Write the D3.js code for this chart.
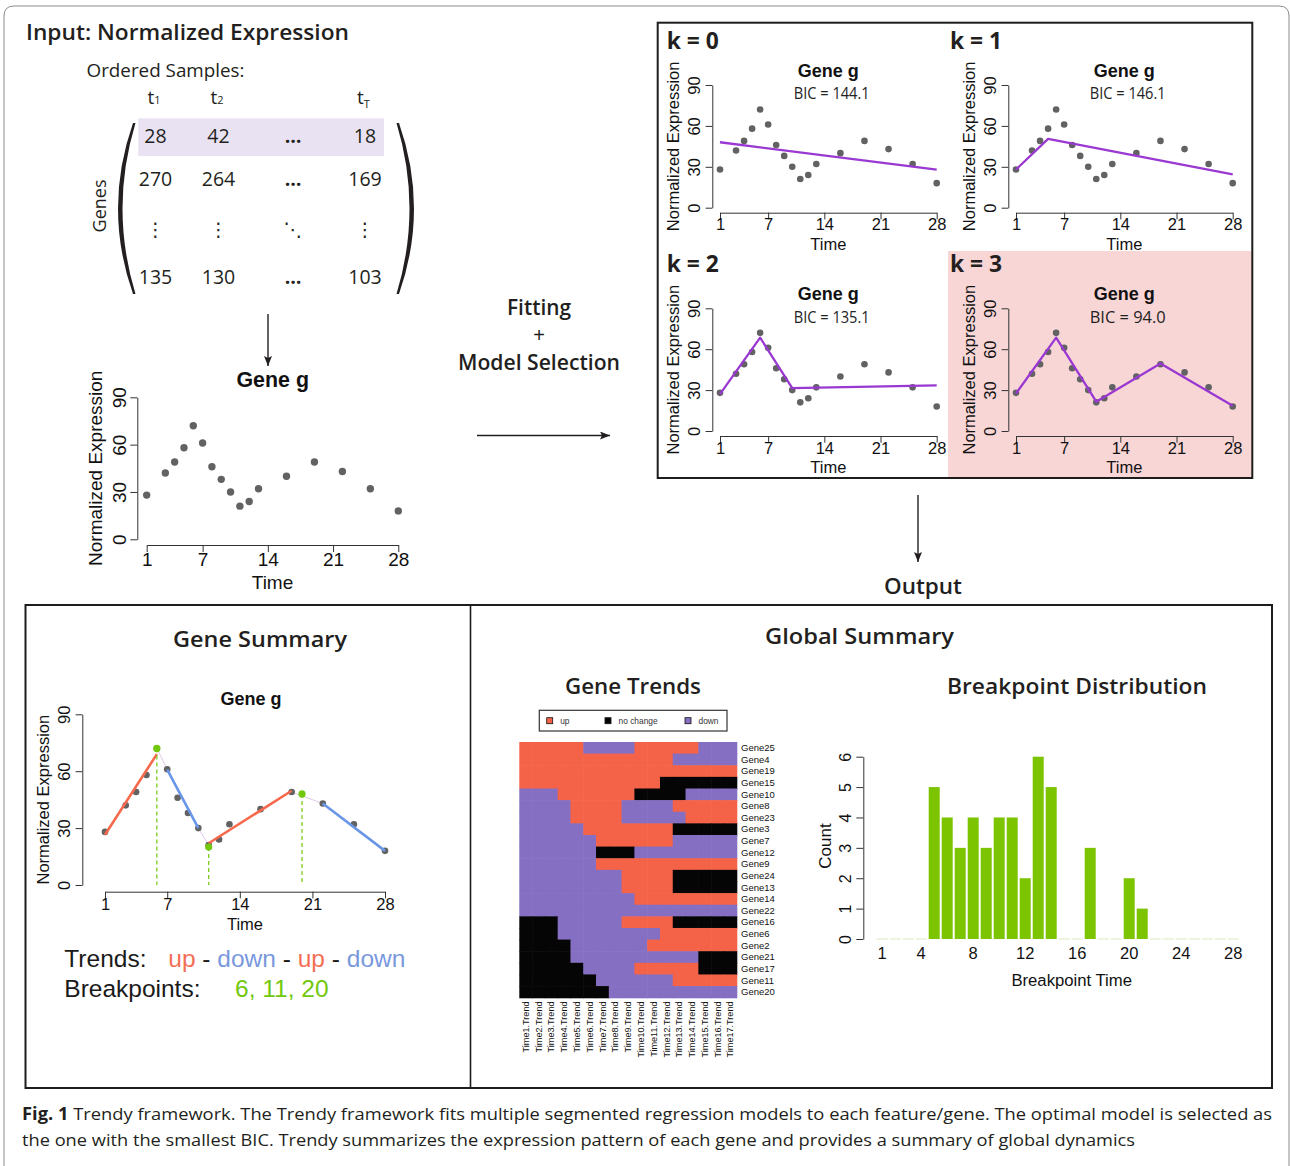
<!DOCTYPE html>
<html><head><meta charset="utf-8">
<script src="https://cdn.jsdelivr.net/npm/d3@7"></script>
<style>
body{margin:0;background:#fff;}
svg{display:block;}
text{white-space:pre;}
</style></head><body>
<svg id="fig" width="1290" height="1166"></svg>
<script>
// ---------------- DATA ----------------
const times = [1,3,4,5,6,7,8,9,10,11,12,13,16,19,22,25,28];
const expr  = [28,42,49,58,72,61,46,38,30,21,24,32,40,49,43,32,18];
const xTicks = [1,7,14,21,28];
const yTicks = [0,30,60,90];

const matrixHeader = [["t","1"],["t","2"],["",""],["t","T"]];
const matrixRows = [
  ["28","42","…","18"],
  ["270","264","…","169"],
  ["⋮","⋮","⋱","⋮"],
  ["135","130","…","103"]
];

const modelK   = ["k = 0","k = 1","k = 2","k = 3"];
const modelBIC = ["BIC = 144.1","BIC = 146.1","BIC = 135.1","BIC = 94.0"];
const fitT = [[1,28],[1,5,28],[1,6,10,28],[1,6,11,19,28]];
const fitY = [[48,28],[28,50.5,24.5],[27,68.5,31.5,33.5],[27.5,68.5,21.5,49.5,18.5]];

const segStartT = [1,7,11,22];
const segEndT   = [6,10,19,28];
const segStartY = [26.5,60.8,22,43];
const segEndY   = [69,30,49.7,18];
const segTrend  = ["up","down","up","down"];
const bpT = [6,11,20];
const bpY = [72,20,48];

const heatCols  = d3.range(1,18).map(i => "Time" + i + ".Trend");
const heatGenes = ["Gene25","Gene4","Gene19","Gene15","Gene10","Gene8","Gene23","Gene3","Gene7","Gene12","Gene9",
                   "Gene24","Gene13","Gene14","Gene22","Gene16","Gene6","Gene2","Gene21","Gene17","Gene11","Gene20"];
const heatRows = [
  "UUUUUDDDDUUUUUDDD","UUUUUUUUUUUUDDDDD","UUUUUUUUUUUUUUUUU","UUUUUUUUUUUNNNNNN",
  "DDDUUUUUUNNNNDDDD","DDDDUUUUDDDDUUUUU","DDDDUUUUDDDDDUUUU","DDDDDUUUUUUUNNNNN",
  "DDDDDDUUUUUUDDDDD","DDDDDDNNNDDDDDDDD","DDDDDDUUUUUUUUUUU","DDDDDDDDUUUUNNNNN",
  "DDDDDDDDUUUUNNNNN","DDDDDDDDDUUUUUUUU","DDDDDDDDDDDDDDDDD","NNNDDDDDUUUUNNNNN",
  "NNNDDDDDDDDUUUUUU","NNNNDDDDDDUUUUUUU","NNNNDDDDDDDDDDNNN","NNNNNDDDDUUUUUNNN",
  "NNNNNNDDDDDDUUUUU","NNNNNNNDDDDDDDDDD"
];
const heatLegend = [["U","up"],["N","no change"],["D","down"]];

const bpTimes  = d3.range(1,29);
const bpCounts = [0,0,0,0,5,4,3,4,3,4,4,2,6,5,0,0,3,0,0,2,1,0,0,0,0,0,0,0];
const bpXLabels = [1,4,8,12,16,20,24,28];
const bpYTicks = [0,1,2,3,4,5,6];

// ---------------- STYLE ----------------
const SANS = "'Liberation Sans', Arial, Helvetica, sans-serif";
const MYR  = "'Open Sans', 'Noto Sans', sans-serif";
const INK  = "#231f20";
const PT   = "#626262";
const FIT  = "#9a38d2";
const UPC  = "#f7694d", DNC = "#6a96e8", GRN = "#72c80c";
const heatColor = {U:"#f46348", N:"#050505", D:"#856fc3"};

const svg = d3.select("#fig");

// outer frame
svg.append("path")
  .attr("d","M4,1166 L4,16 Q4,6 14,6 L1279,6 Q1289,6 1289,16 L1289,1166")
  .attr("fill","none").attr("stroke","#8c8c8c").attr("stroke-width",1);

function head(x, y, txt, size, len, weight) {
  const t = svg.append("text").attr("x",x).attr("y",y)
    .attr("font-family",MYR).attr("font-weight",weight||600).attr("font-size",size)
    .attr("fill",INK).text(txt);
  if (len) t.attr("textLength",len).attr("lengthAdjust","spacingAndGlyphs");
  return t;
}

// arrow marker
svg.append("defs").append("marker").attr("id","ah")
  .attr("viewBox","0 0 10 8").attr("refX",10).attr("refY",4)
  .attr("markerWidth",11).attr("markerHeight",8).attr("markerUnits","userSpaceOnUse")
  .attr("orient","auto")
  .append("path").attr("d","M0,0 L10,4 L0,8 L2,4 Z").attr("fill",INK);

function arrow(x1,y1,x2,y2){
  svg.append("line").attr("x1",x1).attr("y1",y1).attr("x2",x2).attr("y2",y2)
    .attr("stroke",INK).attr("stroke-width",1.4).attr("marker-end","url(#ah)");
}

// ---------------- INPUT MATRIX ----------------
head(26, 40, "Input: Normalized Expression", 22, 323);
head(86.5, 77, "Ordered Samples:", 18, 158, 400);

svg.append("rect").attr("x",138.3).attr("y",118.3).attr("width",245.7).attr("height",37.7).attr("fill","#e8e2f2");

const colX = [155.5, 218.5, 293, 365];
const rowY = [143, 186, 236, 284];
matrixHeader.forEach((h,i) => {
  if (!h[0]) return;
  const t = svg.append("text").attr("x",colX[i]-8).attr("y",104)
    .attr("font-family",MYR).attr("font-size",19).attr("fill",INK);
  t.append("tspan").text(h[0]);
  t.append("tspan").attr("font-size",11).attr("dy", h[1]==="T"?4:0).text(h[1]);
});
matrixRows.forEach((r,ri) => r.forEach((v,ci) => {
  const dots = (v==="⋮"||v==="⋱");
  svg.append("text").attr("x",colX[ci]).attr("y",rowY[ri]).attr("text-anchor","middle")
    .attr("font-family", dots ? "'DejaVu Sans', sans-serif" : MYR)
    .attr("font-weight", v==="…" ? 700 : 400)
    .attr("font-size", dots ? 19 : 19.5).attr("fill",INK).text(v);
}));
svg.append("path").attr("d","M133,123 Q103,208.5 133,294 L135.5,294 Q109.5,208.5 135.5,123 Z").attr("fill",INK);
svg.append("path").attr("d","M399,123 Q429,208.5 399,294 L396.5,294 Q422.5,208.5 396.5,123 Z").attr("fill",INK);
svg.append("text").attr("transform","translate(100,206) rotate(-90)").attr("text-anchor","middle")
  .attr("dy","0.36em").attr("font-family",MYR).attr("font-size",18).attr("fill",INK).text("Genes");

arrow(268, 314, 268, 366);

// ---------------- R-style plot helper ----------------
function rplot(c) {
  const g = svg.append("g").attr("transform",`translate(${c.dx||0},${c.dy||0})`);
  const x = d3.scaleLinear().domain([1,28]).range([c.x1,c.x28]);
  const y = d3.scaleLinear().domain([0,90]).range([c.y0,c.y90]);
  const gx = g.append("g").attr("transform",`translate(0,${c.axisY})`)
    .call(d3.axisBottom(x).tickValues(xTicks).tickFormat(d3.format("d")).tickSize(c.tl).tickSizeOuter(0));
  const gy = g.append("g").attr("transform",`translate(${c.axisX},0)`)
    .call(d3.axisLeft(y).tickValues(yTicks).tickFormat(d3.format("d")).tickSize(c.tl).tickSizeOuter(0));
  [gx,gy].forEach(a => {
    a.attr("font-family",SANS).attr("font-size",c.fs).attr("color","#333");
    a.selectAll("path,line").attr("stroke-width",1);
    a.selectAll("text").attr("fill","#111");
  });
  gx.selectAll(".tick text").attr("y",c.xTickBase).attr("dy",0);
  gy.selectAll(".tick text").attr("x",0).attr("dy",0).attr("transform","rotate(-90)")
    .attr("text-anchor","middle").attr("y",-c.yTickOff+0.36*c.fs);
  g.append("text").attr("x",(c.x1+c.x28)/2).attr("y",c.axisY+c.xlabBase).attr("text-anchor","middle")
    .attr("font-family",SANS).attr("font-size",c.fs).attr("fill","#111").text("Time");
  g.append("text").attr("transform",`translate(${c.axisX-c.ylabOff},${(c.y0+c.y90)/2}) rotate(-90)`)
    .attr("text-anchor","middle").attr("dy","0.36em")
    .attr("font-family",SANS).attr("font-size",c.fs).attr("fill","#111").text("Normalized Expression");
  g.append("text").attr("x",c.titleX).attr("y",c.titleY).attr("text-anchor","middle")
    .attr("font-family",SANS).attr("font-weight","bold").attr("font-size",c.titleFs).attr("fill","#111").text("Gene g");
  return {g,x,y};
}
function points(p, r) {
  p.g.append("g").selectAll("circle").data(times).join("circle")
    .attr("cx",d => p.x(d)).attr("cy",(d,i) => p.y(expr[i])).attr("r",r).attr("fill",PT);
}

// input scatter
const pA = rplot({x1:146.7,x28:398.3,y0:539.3,y90:397.3,axisX:137.3,axisY:545,tl:7,fs:19,
  xTickBase:20.5,yTickOff:18,xlabBase:44.3,ylabOff:42.3,titleX:272.7,titleY:386.7,titleFs:21.4});
points(pA, 3.7);

// fitting text + arrow
head(507, 315, "Fitting", 22, 64);
svg.append("text").attr("x",539).attr("y",342).attr("text-anchor","middle")
  .attr("font-family",SANS).attr("font-size",20).attr("fill",INK).text("+");
head(458, 370, "Model Selection", 22, 162);
arrow(477, 435.5, 610, 435.5);

// ---------------- MODEL PANEL ----------------
const kOff = [[0,0],[296,0],[0,223.3],[296,223.3]];
svg.append("rect").attr("x",948).attr("y",251).attr("width",304.3).attr("height",227).attr("fill","#f9d6d6");
svg.append("rect").attr("x",657.7).attr("y",22.7).attr("width",594.6).attr("height",455.3)
  .attr("fill","none").attr("stroke","#1d1d1d").attr("stroke-width",2);

modelK.forEach((k,i) => {
  const [dx,dy] = kOff[i];
  svg.append("text").attr("x",(i%2? 950:666.7)).attr("y",49.3 + (i>1?222.4:0))
    .attr("font-family",MYR).attr("font-weight",700).attr("font-size",24).attr("fill",INK)
    .attr("textLength",52).attr("lengthAdjust","spacingAndGlyphs").text(k);
  const p = rplot({dx,dy,x1:720,x28:936.7,y0:207.7,y90:85,axisX:712.3,axisY:212.7,tl:6.7,fs:16.5,
    xTickBase:17.8,yTickOff:18,xlabBase:37.3,ylabOff:39,titleX:828.3,titleY:76.7,titleFs:18});
  p.g.append("text").attr("x",831.7-38).attr("y",99.3).attr("font-family",MYR).attr("font-size",15.5)
    .attr("fill","#222").attr("textLength",76).attr("lengthAdjust","spacingAndGlyphs").text(modelBIC[i]);
  points(p, 3.3);
  p.g.append("path").datum(d3.zip(fitT[i],fitY[i]))
    .attr("d", d3.line().x(d => p.x(d[0])).y(d => p.y(d[1])))
    .attr("fill","none").attr("stroke",FIT).attr("stroke-width",2.3).attr("stroke-linejoin","round");
});

arrow(918, 495, 918, 562);
head(884, 594, "Output", 22, 78);

// ---------------- OUTPUT PANEL ----------------
svg.append("rect").attr("x",25.5).attr("y",605).attr("width",1246.5).attr("height",483)
  .attr("fill","none").attr("stroke","#1d1d1d").attr("stroke-width",2);
svg.append("line").attr("x1",470.5).attr("x2",470.5).attr("y1",605).attr("y2",1088)
  .attr("stroke","#1d1d1d").attr("stroke-width",1.6);

head(173, 647, "Gene Summary", 22, 174);
head(765, 644, "Global Summary", 22, 189);
head(565, 694, "Gene Trends", 22, 136);
head(947, 694, "Breakpoint Distribution", 22, 260);

// gene summary plot
const pS = rplot({x1:105,x28:385,y0:885,y90:714.3,axisX:82.3,axisY:891.7,tl:6.7,fs:16.5,
  xTickBase:18.3,yTickOff:18,xlabBase:38.3,ylabOff:39,titleX:251,titleY:705,titleFs:18});
const idx = t => times.indexOf(t);
// thin connectors between segments
d3.range(segEndT.length-1).forEach(i => {
  pS.g.append("line")
    .attr("x1",pS.x(segEndT[i])).attr("y1",pS.y(expr[idx(segEndT[i])]))
    .attr("x2",pS.x(segStartT[i+1])).attr("y2",pS.y(expr[idx(segStartT[i+1])]))
    .attr("stroke","#e2c8ec").attr("stroke-width",1);
});
points(pS, 3.3);
pS.g.append("g").selectAll("line").data(segTrend).join("line")
  .attr("x1",(d,i) => pS.x(segStartT[i])).attr("y1",(d,i) => pS.y(segStartY[i]))
  .attr("x2",(d,i) => pS.x(segEndT[i])).attr("y2",(d,i) => pS.y(segEndY[i]))
  .attr("stroke",d => d==="up"?UPC:DNC).attr("stroke-width",2.6);
pS.g.append("g").selectAll("line").data(bpT).join("line")
  .attr("x1",d => pS.x(d)).attr("x2",d => pS.x(d))
  .attr("y1",(d,i) => pS.y(bpY[i])).attr("y2",pS.y(0))
  .attr("stroke",GRN).attr("stroke-width",1.2).attr("stroke-dasharray","4,3");
pS.g.append("g").selectAll("circle").data(bpT).join("circle")
  .attr("cx",d => pS.x(d)).attr("cy",(d,i) => pS.y(bpY[i])).attr("r",3.6).attr("fill",GRN);

// Trends / breakpoints text
svg.append("text").attr("x",64.3).attr("y",966.7).attr("font-family",SANS).attr("font-size",24.5)
  .attr("fill","#1a1a1a").text("Trends:");
const tt = svg.append("text").attr("x",168.3).attr("y",966.7).attr("font-family",SANS).attr("font-size",24.5);
segTrend.forEach((d,i) => {
  if (i>0) tt.append("tspan").attr("fill","#1a1a1a").text(" - ");
  tt.append("tspan").attr("fill", d==="up" ? "#f46e55" : "#7a98dc").text(d);
});
svg.append("text").attr("x",64.3).attr("y",996.7).attr("font-family",SANS).attr("font-size",24.5)
  .attr("fill","#1a1a1a").text("Breakpoints:");
svg.append("text").attr("x",235).attr("y",996.7).attr("font-family",SANS).attr("font-size",24.5)
  .attr("fill",GRN).text(bpT.join(", "));

// ---------------- HEATMAP ----------------
const hx = d3.scaleBand().domain(heatCols).range([519.3,736.7]);
const hy = d3.scaleBand().domain(heatGenes).range([742,997.7]);
const hg = svg.append("g");
heatGenes.forEach((gname,ri) => {
  hg.append("g").selectAll("rect").data(heatRows[ri].split("")).join("rect")
    .attr("x",(d,ci) => hx(heatCols[ci])).attr("y",hy(gname))
    .attr("width",hx.bandwidth()+0.6).attr("height",hy.bandwidth()+0.6)
    .attr("fill",d => heatColor[d]);
});
hg.append("g").selectAll("text").data(heatGenes).join("text")
  .attr("x",741).attr("y",d => hy(d)+hy.bandwidth()/2).attr("dy","0.35em")
  .attr("font-family",SANS).attr("font-size",9.5).attr("fill","#111").text(d => d);
hg.append("g").selectAll("text").data(heatCols).join("text")
  .attr("transform",d => `translate(${hx(d)+hx.bandwidth()/2},1001.5) rotate(-90)`)
  .attr("dy","0.35em").attr("text-anchor","end")
  .attr("font-family",SANS).attr("font-size",9.1).attr("fill","#111").text(d => d);
// legend
svg.append("rect").attr("x",539.3).attr("y",710.3).attr("width",187.7).attr("height",20.7)
  .attr("fill","#fff").attr("stroke","#333").attr("stroke-width",1.2);
const legX = [546.7,605,685];
heatLegend.forEach((d,i) => {
  svg.append("rect").attr("x",legX[i]).attr("y",717.7).attr("width",6).attr("height",6)
    .attr("fill",heatColor[d[0]]).attr("stroke","#111").attr("stroke-width",0.8);
  svg.append("text").attr("x",legX[i]+13.5).attr("y",720.7).attr("dy","0.35em")
    .attr("font-family",SANS).attr("font-size",8.4).attr("fill","#333").text(d[1]);
});

// ---------------- BREAKPOINT DISTRIBUTION ----------------
const bx = d3.scaleBand().domain(bpTimes).range([876.7, 876.7+28*13-2]).paddingInner(2/13).paddingOuter(0);
const by = d3.scaleLinear().domain([0,6]).range([939,756.7]);
svg.append("g").selectAll("rect").data(bpCounts).join("rect")
  .attr("x",(d,i) => bx(bpTimes[i])).attr("width",bx.bandwidth())
  .attr("y",d => d>0 ? by(d) : by(0)-0.5).attr("height",d => d>0 ? by(0)-by(d) : 1)
  .attr("fill",d => d>0 ? "#7dc400" : "#d9ecbf");
const bya = svg.append("g").attr("transform","translate(863.3,0)")
  .call(d3.axisLeft(by).tickValues(bpYTicks).tickFormat(d3.format("d")).tickSize(7).tickSizeOuter(0));
bya.attr("font-family",SANS).attr("font-size",16).attr("color","#333");
bya.selectAll("text").attr("fill","#111").attr("x",0).attr("dy",0).attr("transform","rotate(-90)")
  .attr("text-anchor","middle").attr("y",-18.3+0.36*16);
svg.append("g").selectAll("text").data(bpXLabels).join("text")
  .attr("x",d => bx(d)+bx.bandwidth()/2).attr("y",959).attr("text-anchor","middle")
  .attr("font-family",SANS).attr("font-size",16.5).attr("fill","#111").text(d => d);
svg.append("text").attr("x",1071.7).attr("y",985.5).attr("text-anchor","middle")
  .attr("font-family",SANS).attr("font-size",16.7).attr("fill","#111").text("Breakpoint Time");
svg.append("text").attr("transform","translate(825,846) rotate(-90)").attr("text-anchor","middle")
  .attr("dy","0.36em").attr("font-family",SANS).attr("font-size",17).attr("fill","#111").text("Count");

// ---------------- CAPTION ----------------
const cap1 = svg.append("text").attr("x",22).attr("y",1120).attr("font-family",MYR)
  .attr("font-size",17).attr("fill",INK).attr("textLength",1250).attr("lengthAdjust","spacingAndGlyphs");
cap1.append("tspan").attr("font-weight",700).text("Fig. 1");
cap1.append("tspan").text(" Trendy framework. The Trendy framework fits multiple segmented regression models to each feature/gene. The optimal model is selected as");
svg.append("text").attr("x",22).attr("y",1146).attr("font-family",MYR)
  .attr("font-size",17).attr("fill",INK).attr("textLength",1113).attr("lengthAdjust","spacingAndGlyphs")
  .text("the one with the smallest BIC. Trendy summarizes the expression pattern of each gene and provides a summary of global dynamics");
</script>
</body></html>
